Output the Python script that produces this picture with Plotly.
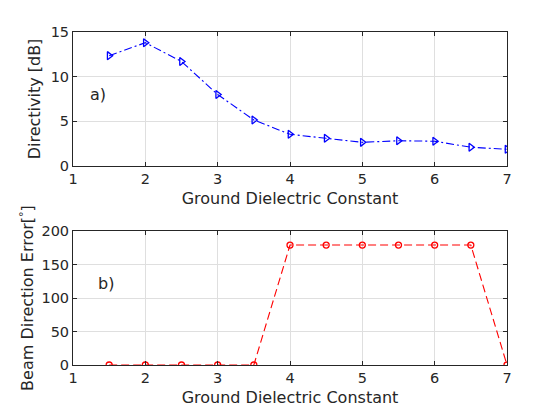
import plotly.graph_objects as go
from plotly.subplots import make_subplots

eps = [1.5, 2, 2.5, 3, 3.5, 4, 4.5, 5, 5.5, 6, 6.5, 7]
directivity = [12.35, 13.8, 11.7, 8.0, 5.15, 3.55, 3.1, 2.65, 2.83, 2.77, 2.1, 1.87]
beam_err = [0, 0, 0, 0, 0, 179, 179, 179, 179, 179, 179, 0]
x_ticks = [1, 2, 3, 4, 5, 6, 7]

fig = make_subplots(rows=2, cols=1, vertical_spacing=0.195)

fig.add_trace(go.Scatter(x=eps, y=directivity, mode="lines+markers",
                         line=dict(color="#0000ff", width=1.1, dash="8px,3px,2px,3px"),
                         marker=dict(symbol="triangle-right-open", size=7, color="#0000ff",
                                     line=dict(width=1.3, color="#0000ff")),
                         showlegend=False), row=1, col=1)
fig.add_trace(go.Scatter(x=eps, y=beam_err, mode="lines+markers",
                         line=dict(color="#ff0000", width=1.1, dash="8px,4px"),
                         marker=dict(symbol="circle-open", size=6, color="#ff0000",
                                     line=dict(width=1.3, color="#ff0000")),
                         showlegend=False), row=2, col=1)

axis_style = dict(showline=True, linecolor="#262626", linewidth=1, mirror="ticks",
                  ticks="inside", ticklen=4, tickcolor="#262626",
                  showgrid=True, gridcolor="#dfdfdf", gridwidth=1, zeroline=False,
                  tickfont=dict(size=14.5, color="#262626"))

for r in (1, 2):
    fig.update_xaxes(range=[1, 7], tickvals=x_ticks, **axis_style,
                     title=dict(text="Ground Dielectric Constant", standoff=6,
                                font=dict(size=16, color="#262626")), row=r, col=1)

fig.update_yaxes(range=[0, 15], tickvals=[0, 5, 10, 15], **axis_style,
                 title=dict(text="Directivity [dB]", standoff=6,
                            font=dict(size=16, color="#262626")), row=1, col=1)
fig.update_yaxes(range=[0, 200], tickvals=[0, 50, 100, 150, 200], **axis_style,
                 title=dict(text="Beam Direction Error[<sup>°</sup>]", standoff=3,
                            font=dict(size=16, color="#262626")), row=2, col=1)

fig.update_layout(
    width=560, height=420,
    margin=dict(l=73, r=53, t=32, b=55),
    paper_bgcolor="white", plot_bgcolor="white",
    font=dict(family="DejaVu Sans", color="#262626"),
)
fig.update_layout(yaxis_domain=[0.5976, 1.0], yaxis2_domain=[0.0, 0.4024])

fig.add_annotation(x=1.35, y=8, xref="x", yref="y", text="a)", showarrow=False,
                   font=dict(size=16, color="#262626"))
fig.add_annotation(x=1.45, y=121, xref="x2", yref="y2", text="b)", showarrow=False,
                   font=dict(size=16, color="#262626"))

fig.write_html("out.html")
